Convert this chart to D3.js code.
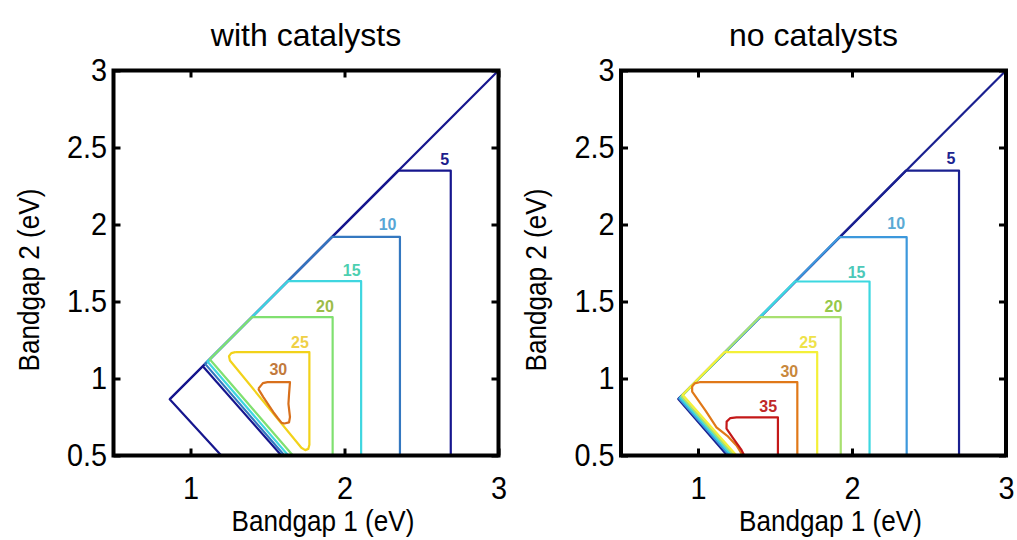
<!DOCTYPE html>
<html>
<head>
<meta charset="utf-8">
<script src="https://cdn.jsdelivr.net/npm/d3@7"></script>
<style>
  html, body { margin: 0; padding: 0; background: #fff; }
  svg { display: block; font-family: "Liberation Sans", Arial, sans-serif; }
</style>
</head>
<body>
<svg id="chart" width="1017" height="540"></svg>
<script>
// Axis ticks (eV)
const xTicks = [1, 2, 3];
const yTicks = [0.5, 1, 1.5, 2, 2.5, 3];
const domain = [0.5, 3];

// Contour levels (% efficiency) and their line / label colours
const levels = [5, 10, 15, 20, 25, 30, 35];
const withColors = ["#16168e", "#3478c0", "#3fd6e0", "#80e070", "#f2d21a", "#d8701c"];
const withLabelColors = ["#1c1c8c", "#58a6d6", "#4ccfb0", "#9cbc48", "#efd046", "#c27a3c"];
const noColors = ["#1a2090", "#3c98dc", "#3cd8e0", "#a8e070", "#f4f038", "#e07818", "#c41818"];
const noLabelColors = ["#1c2490", "#5aaad4", "#4cc8b8", "#96c84a", "#eee24a", "#c8883c", "#c02828"];

// Edge of the valid region (Bandgap 2 <= Bandgap 1)
const withEdge = [[0.865, 0.865], [3, 3]];
const noEdge = [[0.872, 0.866], [3, 3]];

// Iso-efficiency contours, with catalysts: [Bandgap 1, Bandgap 2] vertices
const withContours = [
  { level: 5,  points: [[1.20, 0.5], [0.865, 0.865], [2.35, 2.35], [2.69, 2.35], [2.69, 0.5]] },
  { level: 5,  points: [[1.59, 0.5], [1.08, 1.08]] },
  { level: 10, points: [[1.61, 0.5], [1.095, 1.095], [1.92, 1.92], [2.36, 1.92], [2.36, 0.5]] },
  { level: 15, points: [[1.635, 0.5], [1.11, 1.11], [1.632, 1.632], [2.108, 1.632], [2.108, 0.5]] },
  { level: 20, points: [[1.665, 0.5], [1.125, 1.125], [1.398, 1.398], [1.923, 1.398], [1.923, 0.5]] },
  { level: 25, points: [[1.29, 1.171], [1.772, 1.171], [1.772, 0.57], [1.765, 0.543], [1.745, 0.535],
                        [1.72, 0.55], [1.256, 1.117], [1.25, 1.145], [1.265, 1.165], [1.29, 1.171]] },
  { level: 30, points: [[1.44, 0.933], [1.47, 0.97], [1.50, 0.976], [1.646, 0.976], [1.64, 0.90],
                        [1.636, 0.836], [1.646, 0.75], [1.64, 0.715], [1.61, 0.708], [1.592, 0.712],
                        [1.565, 0.745], [1.538, 0.781], [1.473, 0.879], [1.44, 0.933]] }
];

// Iso-efficiency contours, no catalysts
const noContours = [
  { level: 5,  points: [[1.19, 0.5], [0.872, 0.866], [2.35, 2.35], [2.695, 2.35], [2.695, 0.5]] },
  { level: 10, points: [[1.205, 0.5], [0.878, 0.87], [1.918, 1.918], [2.355, 1.918], [2.355, 0.5]] },
  { level: 15, points: [[1.22, 0.5], [0.885, 0.876], [1.63, 1.63], [2.114, 1.63], [2.114, 0.5]] },
  { level: 20, points: [[1.235, 0.5], [0.893, 0.884], [1.398, 1.398], [1.927, 1.398], [1.927, 0.5]] },
  { level: 25, points: [[1.25, 0.5], [0.90, 0.894], [1.171, 1.171], [1.774, 1.171], [1.774, 0.5]] },
  { level: 30, points: [[1.29, 0.5], [1.25, 0.565], [1.19, 0.628], [1.12, 0.683], [1.05, 0.79],
                        [0.962, 0.915], [0.962, 0.948], [0.978, 0.968], [1.01, 0.976], [1.11, 0.976],
                        [1.645, 0.976], [1.645, 0.5]] },
  { level: 35, points: [[1.30, 0.5], [1.28, 0.54], [1.23, 0.61], [1.185, 0.675], [1.186, 0.72],
                        [1.21, 0.743], [1.25, 0.747], [1.519, 0.747], [1.519, 0.5]] }
];

// Contour labels: [Bandgap 1, Bandgap 2, level]
const withLabels = [[2.65, 2.42, 5], [2.28, 2.0, 10], [2.047, 1.70, 15], [1.873, 1.467, 20],
                    [1.711, 1.236, 25], [1.57, 1.056, 30]];
const noLabels = [[2.643, 2.427, 5], [2.287, 2.005, 10], [2.03, 1.69, 15], [1.88, 1.467, 20],
                  [1.716, 1.236, 25], [1.593, 1.047, 30], [1.456, 0.818, 35]];

const panels = [
  { title: "with catalysts", left: 113.5, edge: withEdge, contours: withContours, labels: withLabels,
    colors: withColors, labelColors: withLabelColors },
  { title: "no catalysts", left: 621, edge: noEdge, contours: noContours, labels: noLabels,
    colors: noColors, labelColors: noLabelColors }
];

const size = 385, plotTop = 70.5;
const svg = d3.select("#chart");

// narrow-looking text: larger size squeezed horizontally
function narrowText(sel, txt, fs, sx, tf) {
  return sel.append("text")
    .attr("transform", `${tf} scale(${sx},1)`)
    .attr("text-anchor", "middle")
    .attr("font-size", fs)
    .attr("fill", "#000")
    .text(txt);
}

panels.forEach(p => {
  const x = d3.scaleLinear().domain(domain).range([p.left, p.left + size]);
  const y = d3.scaleLinear().domain(domain).range([plotTop + size, plotTop]);
  const idx = lv => levels.indexOf(lv);
  const line = d3.line().x(d => x(d[0])).y(d => y(d[1]));

  const g = svg.append("g");

  // region edge along the diagonal
  g.append("path").attr("d", line(p.edge))
    .attr("fill", "none").attr("stroke", p.colors[0]).attr("stroke-width", 2.2);

  // contour lines, lowest level first so higher levels sit on top
  g.selectAll("path.contour")
    .data(p.contours.slice().sort((a, b) => a.level - b.level))
    .join("path")
    .attr("class", "contour")
    .attr("d", d => line(d.points))
    .attr("fill", "none")
    .attr("stroke", d => p.colors[idx(d.level)])
    .attr("stroke-width", 2.2)
    .attr("stroke-linejoin", "round");

  // contour labels
  g.selectAll("text.clabel")
    .data(p.labels)
    .join("text")
    .attr("class", "clabel")
    .attr("x", d => x(d[0]))
    .attr("y", d => y(d[1]))
    .attr("text-anchor", "middle")
    .attr("dominant-baseline", "central")
    .attr("font-size", 16)
    .attr("font-weight", "bold")
    .attr("fill", d => p.labelColors[idx(d[2])])
    .text(d => d[2]);

  // axes: inward ticks on all four sides, labels on left and bottom
  const tickLen = -7;
  const bottom = g.append("g").attr("transform", `translate(0,${plotTop + size})`)
    .call(d3.axisBottom(x).tickValues(xTicks).tickSize(tickLen).tickPadding(22).tickFormat(d => String(d)));
  const leftAx = g.append("g").attr("transform", `translate(${p.left},0)`)
    .call(d3.axisLeft(y).tickValues(yTicks).tickSize(tickLen).tickPadding(7).tickFormat(d => String(d)));
  const topAx = g.append("g").attr("transform", `translate(0,${plotTop})`)
    .call(d3.axisTop(x).tickValues(xTicks).tickSize(tickLen).tickFormat(""));
  const rightAx = g.append("g").attr("transform", `translate(${p.left + size},0)`)
    .call(d3.axisRight(y).tickValues(yTicks).tickSize(tickLen).tickFormat(""));

  [bottom, leftAx, topAx, rightAx].forEach(a => {
    a.select(".domain").remove();
    a.selectAll(".tick line").attr("stroke", "#000").attr("stroke-width", 3);
    a.selectAll(".tick text").attr("font-size", 31).attr("fill", "#000")
      .attr("transform", "scale(0.93,1)")
      .attr("font-family", "'Liberation Sans', Arial, sans-serif");
  });

  // heavy box
  g.append("rect")
    .attr("x", p.left).attr("y", plotTop).attr("width", size).attr("height", size)
    .attr("fill", "none").attr("stroke", "#000").attr("stroke-width", 4);

  // title and axis titles
  narrowText(g, p.title, 32, 1, `translate(${p.left + size / 2},46)`);
  narrowText(g, "Bandgap 1 (eV)", 29, 0.9, `translate(${p.left + size / 2 + 17},531)`);
  narrowText(g, "Bandgap 2 (eV)", 29, 0.9, `translate(${p.left - 75},${plotTop + size / 2 + 17}) rotate(-90)`);
});
</script>
</body>
</html>
